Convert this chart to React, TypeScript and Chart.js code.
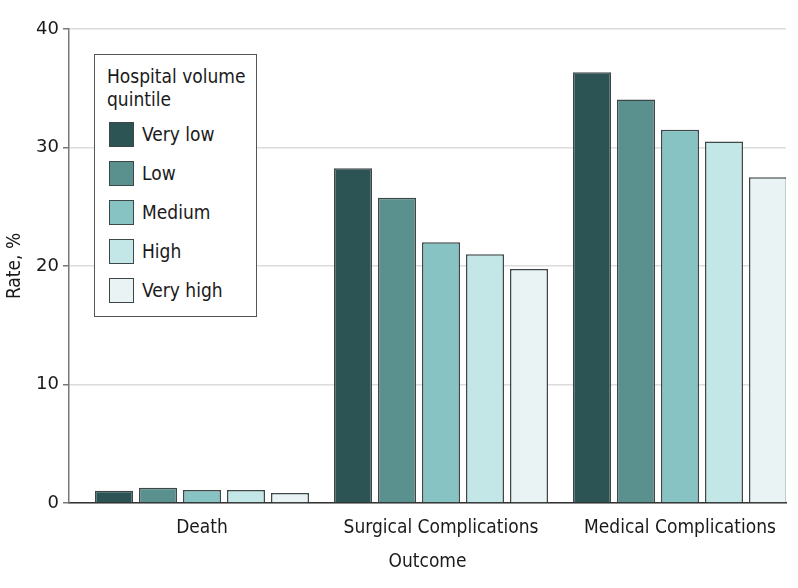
import React, { useEffect, useRef } from 'react';
import { Chart, registerables } from 'chart.js';
Chart.register(...registerables);

const categories = ['Death', 'Surgical Complications', 'Medical Complications'];
const seriesNames = ['Very low', 'Low', 'Medium', 'High', 'Very high'];
const veryLow = [1.04, 28.25, 36.35];
const low = [1.28, 25.75, 34.05];
const medium = [1.1, 22.0, 31.5];
const high = [1.1, 21.0, 30.5];
const veryHigh = [0.84, 19.75, 27.5];
const yTicks = [0, 10, 20, 30, 40];
const seriesValues = [veryLow, low, medium, high, veryHigh];
const seriesColors = ['#2c5454', '#5a908e', '#87c3c2', '#c3e6e6', '#e9f3f4'];

const labelFont = "'DejaVu Sans Condensed', 'DejaVu Sans', sans-serif";
const tickFont = "'DejaVu Sans', sans-serif";

export default function App() {
  const ref = useRef<HTMLCanvasElement | null>(null);
  useEffect(() => {
    if (!ref.current) return;
    const chart = new Chart(ref.current, {
      type: 'bar',
      data: {
        datasets: seriesNames.map((name, s) => ({
          label: name,
          data: seriesValues[s].map((v, i) => ({ x: i, y: v })),
          backgroundColor: seriesColors[s],
          borderColor: '#3d4747',
          borderWidth: 1.5,
          categoryPercentage: 0.9205,
          barPercentage: 0.8636,
        })),
      },
      options: {
        responsive: false,
        animation: false,
        devicePixelRatio: 1,
        layout: { padding: { top: 29, right: 12, bottom: 0, left: 0 } },
        plugins: { legend: { display: false }, tooltip: { enabled: false } },
        scales: {
          x: {
            type: 'linear',
            offset: false,
            min: -0.5565,
            max: 2.4435,
            afterBuildTicks: (scale: any) => {
              scale.ticks = categories.map((_, i) => ({ value: i }));
            },
            afterFit: (scale: any) => {
              scale.height = 85;
            },
            grid: { display: false },
            border: { color: '#333333', width: 1.5 },
            ticks: {
              autoSkip: false,
              maxRotation: 0,
              padding: 6,
              color: '#1a1a1a',
              font: { family: labelFont, size: 19 },
              callback: (v: any) => categories[v as number] ?? '',
            },
            title: {
              display: true,
              text: 'Outcome',
              color: '#1a1a1a',
              font: { family: labelFont, size: 19 },
              padding: { top: 0, bottom: 15 },
            },
          },
          y: {
            min: 0,
            max: 40,
            afterBuildTicks: (scale: any) => {
              scale.ticks = yTicks.map((v) => ({ value: v }));
            },
            afterFit: (scale: any) => {
              scale.width = 69;
            },
            grid: {
              color: '#dcdcdc',
              lineWidth: 1.5,
              tickColor: '#777777',
              tickLength: 6,
            },
            border: { color: '#777777', width: 1.5 },
            ticks: {
              padding: 4,
              color: '#1a1a1a',
              font: { family: tickFont, size: 18 },
            },
            title: {
              display: true,
              text: 'Rate, %',
              color: '#1a1a1a',
              font: { family: labelFont, size: 19 },
              padding: { top: 4, bottom: 0 },
            },
          },
        },
      },
    });
    return () => chart.destroy();
  }, []);

  const legendFont: React.CSSProperties = {
    fontFamily: labelFont,
    fontSize: 19,
    color: '#1a1a1a',
    position: 'absolute',
    whiteSpace: 'nowrap',
    lineHeight: '23px',
  };

  return (
    <div style={{ position: 'absolute', left: 0, top: 0, width: 798, height: 588, background: '#fff' }}>
      <canvas ref={ref} width={798} height={588} style={{ position: 'absolute', left: 0, top: 0 }} />
      <div
        style={{
          position: 'absolute',
          left: 94,
          top: 54,
          width: 163,
          height: 263,
          boxSizing: 'border-box',
          border: '1.5px solid #555',
          background: '#fff',
        }}
      >
        <div style={{ ...legendFont, left: 12, top: 10 }}>Hospital volume</div>
        <div style={{ ...legendFont, left: 12, top: 33 }}>quintile</div>
        {seriesNames.map((name, s) => (
          <React.Fragment key={name}>
            <div
              style={{
                position: 'absolute',
                left: 14,
                top: 67 + s * 39,
                width: 25,
                height: 25,
                boxSizing: 'border-box',
                background: seriesColors[s],
                border: '1.5px solid #3d4747',
              }}
            />
            <div style={{ ...legendFont, left: 47, top: 68 + s * 39 }}>{name}</div>
          </React.Fragment>
        ))}
      </div>
    </div>
  );
}
